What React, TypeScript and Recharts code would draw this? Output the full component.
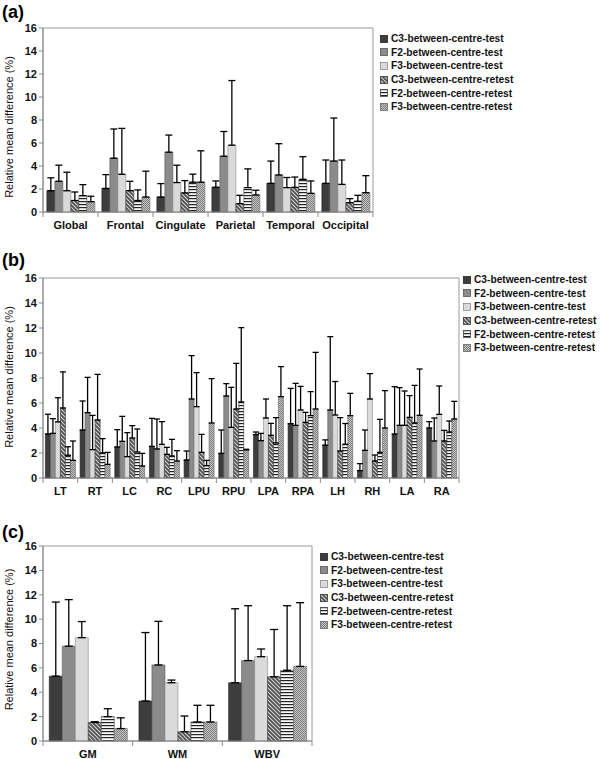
import { BarChart, Bar, XAxis, YAxis, ErrorBar, ReferenceArea, Label } from 'recharts';

const seriesKeys = ['c3t', 'f2t', 'f3t', 'c3r', 'f2r', 'f3r'];
const seriesNames = [
  'C3-between-centre-test',
  'F2-between-centre-test',
  'F3-between-centre-test',
  'C3-between-centre-retest',
  'F2-between-centre-retest',
  'F3-between-centre-retest',
];
const yTicks = [0, 2, 4, 6, 8, 10, 12, 14, 16];

// ===== (a) lobes =====
const lobeCats = ['Global', 'Frontal', 'Cingulate', 'Parietal', 'Temporal', 'Occipital'];
const lobeC3Test = [1.85, 2.05, 1.3, 2.15, 2.49, 2.49];
const lobeC3TestSd = [1.12, 1.2, 1.17, 0.55, 1.94, 2.03];
const lobeF2Test = [2.67, 4.68, 5.2, 4.85, 3.22, 4.43];
const lobeF2TestSd = [1.4, 2.54, 1.49, 2.15, 2.72, 3.74];
const lobeF3Test = [1.85, 3.28, 2.56, 5.81, 2.12, 2.4];
const lobeF3TestSd = [1.61, 3.99, 1.51, 5.62, 0.88, 2.12];
const lobeC3Retest = [1.0, 1.86, 1.66, 0.73, 2.14, 0.81];
const lobeC3RetestSd = [0.74, 0.81, 1.07, 0.72, 0.9, 0.35];
const lobeF2Retest = [1.42, 1.0, 2.59, 2.12, 2.84, 0.93];
const lobeF2RetestSd = [0.96, 0.92, 0.7, 1.63, 1.97, 0.52];
const lobeF3Retest = [0.9, 1.3, 2.59, 1.48, 1.62, 1.68];
const lobeF3RetestSd = [0.47, 2.25, 2.73, 0.41, 1.08, 1.48];

// ===== (b) regions =====
const regionCats = ['LT', 'RT', 'LC', 'RC', 'LPU', 'RPU', 'LPA', 'RPA', 'LH', 'RH', 'LA', 'RA'];
const regionC3Test = [3.52, 3.84, 2.48, 2.53, 1.44, 1.97, 3.47, 4.35, 2.63, 0.59, 3.52, 4.0];
const regionC3TestSd = [1.58, 2.32, 1.39, 2.24, 0.72, 1.87, 0.21, 2.82, 0.42, 0.56, 3.79, 0.51];
const regionF2Test = [3.57, 5.23, 2.93, 2.32, 6.32, 6.56, 2.99, 4.21, 5.44, 2.21, 4.21, 2.96];
const regionF2TestSd = [1.18, 2.82, 2.0, 2.4, 3.47, 0.99, 0.58, 3.36, 5.87, 1.63, 3.02, 1.84];
const regionF3Test = [4.49, 2.27, 1.71, 2.69, 5.71, 4.05, 4.8, 5.44, 5.04, 6.32, 4.21, 5.09];
const regionF3TestSd = [1.93, 2.74, 1.92, 1.82, 2.72, 3.2, 1.52, 1.89, 2.68, 2.03, 2.75, 2.27];
const regionC3Retest = [5.6, 4.64, 3.2, 1.89, 2.05, 5.52, 3.41, 4.45, 2.16, 1.36, 4.85, 2.96];
const regionC3RetestSd = [2.89, 3.65, 0.99, 0.56, 1.44, 3.65, 0.96, 0.8, 2.67, 0.48, 1.74, 0.85];
const regionF2Retest = [1.82, 2.0, 2.08, 1.76, 0.99, 6.08, 2.8, 4.99, 2.7, 2.05, 4.4, 3.68];
const regionF2RetestSd = [0.68, 1.15, 1.84, 1.33, 0.42, 5.95, 2.03, 1.92, 1.66, 2.64, 3.01, 0.88];
const regionF3Retest = [1.41, 1.09, 0.96, 1.36, 4.4, 2.25, 6.51, 5.52, 4.99, 4.0, 5.01, 4.72];
const regionF3RetestSd = [1.55, 0.96, 1.01, 0.83, 3.55, 0.05, 2.4, 4.53, 1.78, 2.99, 3.71, 1.41];

// ===== (c) tissue =====
const tissueCats = ['GM', 'WM', 'WBV'];
const tissueC3Test = [5.32, 3.28, 4.78];
const tissueC3TestSd = [6.08, 5.62, 6.07];
const tissueF2Test = [7.78, 6.24, 6.6];
const tissueF2TestSd = [3.82, 3.58, 4.5];
const tissueF3Test = [8.48, 4.78, 6.92];
const tissueF3TestSd = [1.32, 0.22, 0.63];
const tissueC3Retest = [1.52, 0.76, 5.27];
const tissueC3RetestSd = [0.06, 1.29, 3.88];
const tissueF2Retest = [2.0, 1.56, 5.8];
const tissueF2RetestSd = [0.65, 1.37, 5.3];
const tissueF3Retest = [1.02, 1.56, 6.12];
const tissueF3RetestSd = [0.88, 1.37, 5.23];

const seriesFill = ['#3d3d3d', '#8b8b8b', '#dadada', 'url(#pHatch)', 'url(#pStripe)', 'url(#pDots)'];
const seriesStroke = ['#222', '#555', '#8a8a8a', '#333', '#444', '#666'];

const FONT = '"Liberation Sans", Arial, sans-serif';

function buildRows(cats: string[], means: number[][], sds: number[][]) {
  return cats.map((cat, i) => {
    const row: any = { cat };
    seriesKeys.forEach((k, s) => {
      row[k] = means[s][i];
      row[k + 'Err'] = [0, sds[s][i]];
    });
    return row;
  });
}

const lobeRows = buildRows(
  lobeCats,
  [lobeC3Test, lobeF2Test, lobeF3Test, lobeC3Retest, lobeF2Retest, lobeF3Retest],
  [lobeC3TestSd, lobeF2TestSd, lobeF3TestSd, lobeC3RetestSd, lobeF2RetestSd, lobeF3RetestSd],
);
const regionRows = buildRows(
  regionCats,
  [regionC3Test, regionF2Test, regionF3Test, regionC3Retest, regionF2Retest, regionF3Retest],
  [regionC3TestSd, regionF2TestSd, regionF3TestSd, regionC3RetestSd, regionF2RetestSd, regionF3RetestSd],
);
const tissueRows = buildRows(
  tissueCats,
  [tissueC3Test, tissueF2Test, tissueF3Test, tissueC3Retest, tissueF2Retest, tissueF3Retest],
  [tissueC3TestSd, tissueF2TestSd, tissueF3TestSd, tissueC3RetestSd, tissueF2RetestSd, tissueF3RetestSd],
);

// category label + small separator ticks at band edges
const CatTick = (props: any) => {
  const { x, y, payload, index, count, half } = props;
  const off = payload && payload.offset ? payload.offset : half;
  return (
    <g>
      <line x1={x - off} x2={x - off} y1={y} y2={y + 5} stroke="#8a8a8a" />
      {index === count - 1 ? <line x1={x + off} x2={x + off} y1={y} y2={y + 5} stroke="#8a8a8a" /> : null}
      <text x={x} y={y + 16.5} textAnchor="middle" fontSize={11} fontWeight="bold" fill="#111" fontFamily={FONT}>
        {payload.value}
      </text>
    </g>
  );
};

const YTitle = (props: any) => {
  const vb = props.viewBox || { x: 8, y: 0, height: 0 };
  const cx = 9;
  const cy = vb.y + vb.height / 2 + (props.shift || 0);
  return (
    <text
      x={cx}
      y={cy}
      transform={`rotate(-90 ${cx} ${cy})`}
      textAnchor="middle"
      dominantBaseline="central"
      fontSize={11}
      fill="#111"
      fontFamily={FONT}
    >
      Relative mean difference (%)
    </text>
  );
};

const LegendBox = ({ left, top }: { left: number; top: number }) => (
  <div style={{ position: 'absolute', left, top, fontFamily: FONT }}>
    {seriesNames.map((n, i) => (
      <div key={n} style={{ height: 13.6, display: 'flex', alignItems: 'center', whiteSpace: 'nowrap' }}>
        <svg width={8} height={8} style={{ marginRight: 3 }}>
          <rect x={0.5} y={0.5} width={7} height={7} fill={seriesFill[i]} stroke={seriesStroke[i]} strokeWidth={0.8} />
        </svg>
        <span style={{ fontSize: 10.2, fontWeight: 'bold', color: '#111' }}>{n}</span>
      </div>
    ))}
  </div>
);

type PanelProps = {
  tag: string;
  rows: any[];
  top: number;
  height: number;
  plotTop: number;
  plotBottom: number;
  plotRight: number;
  capW: number;
  legendLeft: number;
  legendTop: number;
  tagTop: number;
  titleShift: number;
};

const Panel = (p: PanelProps) => {
  const xAxisH = p.top + p.height - p.plotBottom - 2;
  const half = (p.plotRight - 43) / p.rows.length / 2;
  return (
    <>
      <div style={{ position: 'absolute', left: 2, top: p.tagTop, fontFamily: FONT, fontWeight: 'bold', fontSize: 18, lineHeight: '18px' }}>
        {p.tag}
      </div>
      <div style={{ position: 'absolute', left: 0, top: p.top }}>
        <BarChart
          width={600}
          height={p.height}
          data={p.rows}
          barCategoryGap="7%"
          barGap={0}
          margin={{ top: p.plotTop - p.top, right: 600 - p.plotRight, bottom: 2, left: 8 }}
        >
          <XAxis
            dataKey="cat"
            interval={0}
            height={xAxisH}
            tickLine={false}
            tickSize={0}
            tickMargin={0}
            axisLine={{ stroke: '#8a8a8a' }}
            tick={<CatTick count={p.rows.length} half={half} />}
          />
          <YAxis
            domain={[0, 16]}
            ticks={yTicks}
            interval={0}
            width={35}
            tickSize={4}
            tickMargin={2}
            axisLine={{ stroke: '#8a8a8a' }}
            tickLine={{ stroke: '#8a8a8a' }}
            tick={{ fontSize: 11, fontWeight: 'bold', fill: '#111', fontFamily: FONT }}
          >
            <Label content={<YTitle shift={p.titleShift} />} />
          </YAxis>
          <ReferenceArea y1={0} y2={16} fill="none" fillOpacity={0} stroke="#9a9a9a" strokeWidth={1} />
          {seriesKeys.map((k, i) => (
            <Bar
              key={k}
              dataKey={k}
              name={seriesNames[i]}
              fill={seriesFill[i]}
              stroke={seriesStroke[i]}
              strokeWidth={0.6}
              isAnimationActive={false}
            >
              <ErrorBar dataKey={k + 'Err'} direction="y" width={p.capW} stroke="#000" strokeWidth={1.3} isAnimationActive={false} />
            </Bar>
          ))}
        </BarChart>
      </div>
      <LegendBox left={p.legendLeft} top={p.legendTop} />
    </>
  );
};

export default function App() {
  return (
    <div style={{ position: 'absolute', left: 0, top: 0, width: 600, height: 759, background: '#fff', overflow: 'hidden' }}>
      <svg width={0} height={0} style={{ position: 'absolute' }}>
        <defs>
          <pattern id="pHatch" patternUnits="userSpaceOnUse" width={4} height={4}>
            <rect width={4} height={4} fill="#505050" />
            <path d="M-1,-1 L5,5 M-1,3 L1,5 M3,-1 L5,1" stroke="#d4d4d4" strokeWidth={1.1} />
          </pattern>
          <pattern id="pStripe" patternUnits="userSpaceOnUse" width={3} height={3}>
            <rect width={3} height={3} fill="#fafafa" />
            <rect width={3} height={1.2} fill="#222" />
          </pattern>
          <pattern id="pDots" patternUnits="userSpaceOnUse" width={2} height={2}>
            <rect width={2} height={2} fill="#c6c6c6" />
            <rect width={1} height={1} fill="#7c7c7c" />
            <rect x={1} y={1} width={1} height={1} fill="#7c7c7c" />
          </pattern>
        </defs>
      </svg>
      <Panel
        tag="(a)"
        rows={lobeRows}
        top={0}
        height={240}
        plotTop={28}
        plotBottom={212}
        plotRight={373}
        capW={3.5}
        legendLeft={380}
        legendTop={32}
        tagTop={3}
        titleShift={7}
      />
      <Panel
        tag="(b)"
        rows={regionRows}
        top={240}
        height={260}
        plotTop={278}
        plotBottom={478}
        plotRight={459}
        capW={3}
        legendLeft={463}
        legendTop={273}
        tagTop={251}
        titleShift={-1}
      />
      <Panel
        tag="(c)"
        rows={tissueRows}
        top={500}
        height={259}
        plotTop={546}
        plotBottom={741}
        plotRight={312}
        capW={4}
        legendLeft={320}
        legendTop={550}
        tagTop={523}
        titleShift={-4}
      />
    </div>
  );
}
